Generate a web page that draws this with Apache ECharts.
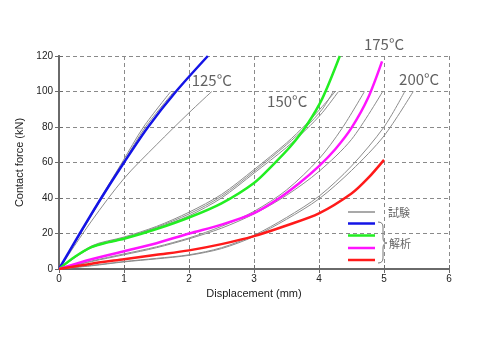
<!DOCTYPE html>
<html>
<head>
<meta charset="utf-8">
<script src="https://cdn.jsdelivr.net/npm/echarts@6/dist/echarts.min.js"></script>
<style>html,body{margin:0;padding:0;background:#fff}#c{width:500px;height:340px}</style>
</head>
<body>
<div id="c"></div>
<script>
// ---- data (displacement mm, force kN) ----
const xTicks = [0, 1, 2, 3, 4, 5, 6];
const yTicks = [0, 20, 40, 60, 80, 100, 120];

// analysis (解析)
const sim125 = [[0,0],[0.32,20],[0.65,40],[1,60],[1.37,80],[1.8,100],[2.29,120]];
const sim150 = [[0,0],[0.25,7],[0.5,12.3],[0.75,15],[1,17],[1.5,22.5],[2,29],[2.5,37],[3,48.5],[3.3,59],[3.56,69],[3.81,81],[4.05,96],[4.32,120]];
const sim175 = [[0,0],[0.5,5.5],[1,10],[1.5,14.5],[2,20],[2.5,25],[3,31.5],[3.35,39],[3.7,48.5],[4,58],[4.25,67.5],[4.5,79.5],[4.75,96],[4.97,117]];
const sim200 = [[0,0],[0.5,3],[1,5.5],[1.5,8],[2,10.5],[2.5,14],[3,18.5],[3.5,24.5],[4,31.3],[4.5,42.5],[4.75,51],[5,61.5]];

// experiment (試験)
const exp125a = [[0,0],[0.32,20],[0.64,40],[0.97,60],[1.3,80],[1.72,100]];
const exp125b = [[0,0],[0.33,20],[0.66,40],[0.99,60],[1.33,80],[1.77,100]];
const exp125c = [[0,0],[0.5,27],[1,51],[1.5,70],[2,88],[2.35,100]];
const exp150a = [[0,0],[0.5,12.5],[1,17.5],[1.5,23.5],[2,31],[2.5,41],[3,55],[3.5,70],[3.8,80],[4.05,90],[4.22,100]];
const exp150b = [[0,0],[0.5,12],[1,17],[1.5,23],[2,30],[2.5,40],[3,54],[3.5,68.5],[3.8,78.5],[4.05,88],[4.3,100]];
const exp150c = [[0,0],[0.5,13],[1,18],[1.5,24],[2,32],[2.5,42],[3,56],[3.5,71],[3.8,81.5],[4.05,91.5],[4.25,100]];
const exp175a = [[0,0],[0.5,4.5],[1,8.5],[1.5,12.5],[2,17.5],[2.5,24],[3,32.5],[3.5,44.5],[4,62],[4.35,79],[4.7,100]];
const exp175b = [[0,0],[0.5,4.2],[1,8],[1.5,12],[2,17],[2.5,23],[3,31],[3.5,41.5],[4,55],[4.5,73],[4.98,100]];
const exp200a = [[0,0],[0.5,2],[1,4.2],[1.5,6],[2,8],[2.5,12],[3,19],[3.5,29],[4,41],[4.5,58],[5,80],[5.32,100]];
const exp200b = [[0,0],[0.5,1.8],[1,4],[1.5,5.7],[2,7.7],[2.5,11.5],[3,18.3],[3.5,28],[4,39.5],[4.5,55.5],[5,75],[5.45,100]];

const tempNames = ['125°C', '150°C', '175°C', '200°C'];
const legendTexts = ['試験', '解析'];
const xName = 'Displacement (mm)';
const yName = 'Contact force (kN)';

// ---- build ----
const chart = echarts.init(document.getElementById('c'), null, {renderer: 'canvas'});
const expList = [exp125a, exp125b, exp125c, exp150a, exp150b, exp150c, exp175a, exp175b, exp200a, exp200b];
const simList = [sim125, sim150, sim175, sim200];
const simColors = ['#1414e6', '#22ee22', '#ff14ff', '#ff1a1a'];

const series = [];
expList.forEach(d => series.push({
  type: 'line', data: d, showSymbol: false, smooth: 0.3, silent: true,
  lineStyle: {color: '#8c8c8c', width: 1}, z: 2
}));
simList.forEach((d, i) => series.push({
  type: 'line', data: d, showSymbol: false, smooth: 0.3, silent: true,
  lineStyle: {color: simColors[i], width: 2.5}, z: 3
}));
const labelPos = [[2.35, 106.5], [3.51, 94.6], [5.0, 126.8], [5.54, 107]];
series.push({
  type: 'scatter', symbolSize: 0, clip: false, silent: true, z: 5,
  data: tempNames.map((n, i) => ({value: labelPos[i], name: n})),
  label: {show: true, position: 'inside', formatter: p => p.name,
    fontFamily: '"Noto Sans CJK JP", sans-serif', fontSize: 15, color: '#3a3a3a'}
});

const axisLine = {show: true, lineStyle: {color: '#6a6a6a', width: 2}};
const tick = {show: true, length: 4, lineStyle: {color: '#6a6a6a', width: 1}};
const labelFont = {fontFamily: '"Liberation Sans", Arial, sans-serif', fontSize: 10, color: '#222'};

const legendYs = [212, 223.5, 235.5, 248, 260];
const legendColors = ['#8c8c8c'].concat(simColors);
const graphic = legendYs.map((y, i) => ({
  type: 'line', shape: {x1: 348, y1: y, x2: 375, y2: y},
  style: {stroke: legendColors[i], lineWidth: i === 0 ? 1.5 : 2.5}, silent: true
}));
graphic.push({type: 'text', x: 388, y: 213, style: {text: legendTexts[0], font: '11px "Noto Sans CJK JP"', fill: '#666', verticalAlign: 'middle'}});
graphic.push({type: 'text', x: 389, y: 243.5, style: {text: legendTexts[1], font: '11px "Noto Sans CJK JP"', fill: '#666', verticalAlign: 'middle'}});
const braceStyle = {stroke: '#777', lineWidth: 1, fill: null};
graphic.push({type: 'bezierCurve', shape: {x1: 378, y1: 222, x2: 383, y2: 227, cpx1: 383, cpy1: 222}, style: braceStyle, silent: true});
graphic.push({type: 'line', shape: {x1: 383, y1: 227, x2: 383, y2: 238}, style: braceStyle, silent: true});
graphic.push({type: 'bezierCurve', shape: {x1: 383, y1: 238, x2: 387, y2: 243, cpx1: 383, cpy1: 243}, style: braceStyle, silent: true});
graphic.push({type: 'bezierCurve', shape: {x1: 387, y1: 243, x2: 383, y2: 248, cpx1: 383, cpy1: 243}, style: braceStyle, silent: true});
graphic.push({type: 'line', shape: {x1: 383, y1: 248, x2: 383, y2: 258}, style: braceStyle, silent: true});
graphic.push({type: 'bezierCurve', shape: {x1: 383, y1: 258, x2: 378, y2: 263, cpx1: 383, cpy1: 263}, style: braceStyle, silent: true});

chart.setOption({
  animation: false,
  backgroundColor: '#fff',
  grid: {left: 59, right: 51, top: 56, bottom: 71, containLabel: false},
  xAxis: [{
    type: 'value', min: xTicks[0], max: xTicks[xTicks.length - 1], interval: 1,
    name: xName, nameLocation: 'middle', nameGap: 18,
    nameTextStyle: {fontFamily: '"Liberation Sans", Arial, sans-serif', fontSize: 11, color: '#222'},
    axisLine: axisLine, axisTick: tick,
    axisLabel: Object.assign({margin: 5}, labelFont),
    splitLine: {show: true, lineStyle: {color: '#8a8a8a', type: [4, 3], width: 1}}
  }, {
    type: 'value', position: 'top', min: xTicks[0], max: xTicks[xTicks.length - 1], interval: 1,
    axisLine: axisLine, axisTick: tick, axisLabel: {show: false}, splitLine: {show: false}
  }],
  yAxis: [{
    type: 'value', min: yTicks[0], max: yTicks[yTicks.length - 1], interval: 20,
    name: yName, nameLocation: 'middle', nameGap: 30,
    nameTextStyle: {fontFamily: '"Liberation Sans", Arial, sans-serif', fontSize: 11, color: '#222'},
    axisLine: axisLine, axisTick: tick,
    axisLabel: Object.assign({margin: 6}, labelFont),
    splitLine: {show: true, lineStyle: {color: '#8a8a8a', type: [4, 3], width: 1}}
  }, {
    type: 'value', position: 'right', min: yTicks[0], max: yTicks[yTicks.length - 1], interval: 20,
    axisLine: axisLine, axisTick: tick, axisLabel: {show: false}, splitLine: {show: false}
  }],
  series: series,
  graphic: graphic
});
</script>
</body>
</html>
